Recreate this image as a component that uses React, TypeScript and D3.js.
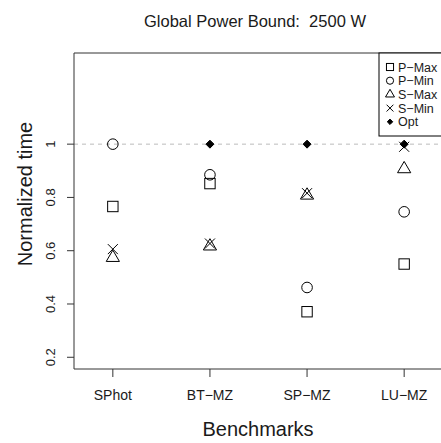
import React from "react";
import * as d3 from "d3";

const categories = ["SPhot", "BT\u2212MZ", "SP\u2212MZ", "LU\u2212MZ"];
const pMax = [0.766, 0.852, 0.371, 0.55];
const pMin = [1.0, 0.885, 0.462, 0.746];
const sMax = [0.574, 0.617, 0.808, 0.907];
const sMin = [0.606, 0.627, 0.816, 0.99];
const opt: (number | null)[] = [null, 1.0, 1.0, 1.0];
const yTicks = [0.2, 0.4, 0.6, 0.8, 1];
const legendLabels = ["P\u2212Max", "P\u2212Min", "S\u2212Max", "S\u2212Min", "Opt"];
const legendShapes = ["square", "circle", "triangle", "cross", "diamond"];

const W = 441;
const H = 443;
const left = 74, right = 443, top = 53, bottom = 369;
const font = "Liberation Sans, Arial, Helvetica, sans-serif";
const ink = "#1a1a1a";

function Marker({ shape, cx, cy, s = 1 }: { shape: string; cx: number; cy: number; s?: number }) {
  const common = { fill: "none", stroke: "#000", strokeWidth: 1 };
  if (shape === "square") {
    const h = 5.2 * s;
    return <rect x={cx - h} y={cy - h} width={2 * h} height={2 * h} {...common} />;
  }
  if (shape === "circle") {
    return <circle cx={cx} cy={cy} r={5.3 * s} {...common} />;
  }
  if (shape === "triangle") {
    const hw = 6.6 * s, up = 7.5 * s, dn = 3.8 * s;
    return (
      <path d={`M${cx},${cy - up}L${cx + hw},${cy + dn}L${cx - hw},${cy + dn}Z`} {...common} />
    );
  }
  if (shape === "cross") {
    const h = 5 * s;
    return (
      <path d={`M${cx - h},${cy - h}L${cx + h},${cy + h}M${cx - h},${cy + h}L${cx + h},${cy - h}`} {...common} />
    );
  }
  const h = 4 * s;
  return <path d={`M${cx},${cy - h}L${cx + h},${cy}L${cx},${cy + h}L${cx - h},${cy}Z`} fill="#000" stroke="#000" />;
}

export default function App() {
  const x = d3.scaleLinear().domain([0.6, 4.4]).range([left, right]);
  const y = d3.scaleLinear().domain([0.156, 1.344]).range([bottom, top - 0.5]);
  const series: [string, (number | null)[]][] = [
    ["square", pMax],
    ["circle", pMin],
    ["triangle", sMax],
    ["cross", sMin],
    ["diamond", opt],
  ];
  const legX = 379;
  const legRowY = (i: number) => 67 + i * 13.7;
  return (
    <svg width={W} height={H} style={{ position: "absolute", left: 0, top: 0, background: "#fff" }} fontFamily={font}>
      <rect x={0} y={0} width={W} height={H} fill="#fff" />
      <text x={255} y={27} textAnchor="middle" fontSize={16.5} fill={ink} style={{ whiteSpace: "pre" }}>
        {"Global Power Bound:  2500 W"}
      </text>
      {/* reference line */}
      <line x1={left} x2={right} y1={y(1)} y2={y(1)} stroke="#bbb" strokeDasharray="4,4" />
      {/* frame */}
      <path d={`M${right},${top}H${left}V${bottom}H${right}`} fill="none" stroke="#333" strokeWidth={1} />
      {/* y axis */}
      {yTicks.map((t) => (
        <g key={t}>
          <line x1={left - 7} x2={left} y1={y(t)} y2={y(t)} stroke="#333" />
          <text
            transform={`translate(55,${y(t)}) rotate(-90)`}
            textAnchor="middle"
            fontSize={13}
            fill={ink}
          >
            {String(t)}
          </text>
        </g>
      ))}
      <text transform={`translate(32,194) rotate(-90)`} textAnchor="middle" fontSize={20} fill={ink}>
        Normalized time
      </text>
      {/* x axis */}
      {categories.map((c, i) => (
        <g key={c}>
          <line x1={x(i + 1)} x2={x(i + 1)} y1={bottom} y2={bottom + 8} stroke="#333" />
          <text x={x(i + 1)} y={400} textAnchor="middle" fontSize={14} fill={ink}>
            {c}
          </text>
        </g>
      ))}
      <text x={258} y={436} textAnchor="middle" fontSize={20} fill={ink}>
        Benchmarks
      </text>
      {/* points */}
      {series.map(([shape, vals]) =>
        vals.map((v, i) =>
          v == null ? null : <Marker key={shape + i} shape={shape} cx={x(i + 1)} cy={y(v)} />
        )
      )}
      {/* legend */}
      <rect x={legX} y={top} width={right - legX} height={136 - top} fill="#fff" stroke="#000" />
      {legendLabels.map((l, i) => (
        <g key={l}>
          <Marker shape={legendShapes[i]} cx={390} cy={legRowY(i)} s={0.68} />
          <text x={398} y={legRowY(i) + 4.5} fontSize={12.5} fill={ink}>
            {l}
          </text>
        </g>
      ))}
    </svg>
  );
}
